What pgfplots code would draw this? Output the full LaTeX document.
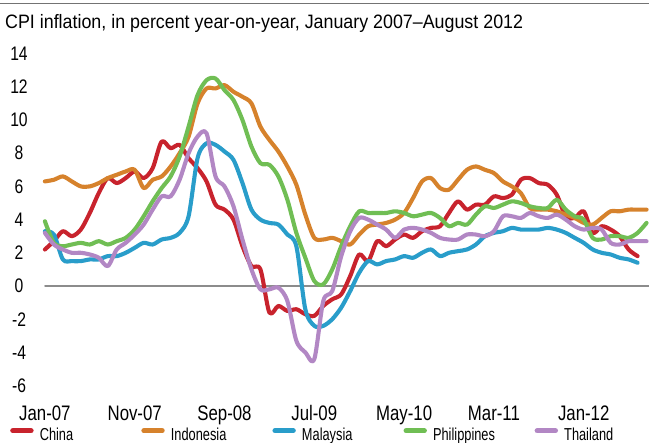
\documentclass[border=0pt]{standalone}
\usepackage{pgfplots}
\pgfplotsset{compat=1.18}
\usepackage{fontspec}
\setmainfont{Liberation Sans}
\newfontfamily\condfont{Liberation Sans}[FakeStretch=0.8]
\newfontfamily\legfont{Liberation Sans}[FakeStretch=0.74]
\newfontfamily\titlefont{Liberation Sans}[FakeStretch=0.92]
\definecolor{cChina}{RGB}{200,35,45}
\definecolor{cIndo}{RGB}{214,130,44}
\definecolor{cMal}{RGB}{41,157,202}
\definecolor{cPhil}{RGB}{112,190,84}
\definecolor{cThai}{RGB}{178,135,196}
\begin{document}
\begin{tikzpicture}
\begin{axis}[
  x=8.98bp, y=16.6bp,
  xmin=-5, xmax=67.3, ymin=-6, ymax=14,
  axis line style={draw=none},
  tick style={draw=none},
  major tick length=0pt,
  clip=false,
  ytick={-6,-4,-2,0,2,4,6,8,10,12,14},
  yticklabels={-6,-4,-2,0,2,4,6,8,10,12,14},
  yticklabel style={font=\condfont\fontsize{19.6bp}{22bp}\selectfont, anchor=center, xshift=19bp, inner sep=0pt},
  xtick={0,10,20,30,40,50,60},
  xticklabels={Jan-07,Nov-07,Sep-08,Jul-09,May-10,Mar-11,Jan-12},
  xticklabel style={font=\condfont\fontsize{21bp}{24bp}\selectfont, anchor=base, yshift=-34.4bp, inner sep=0pt},
  legend columns=5,
  legend style={draw=none, fill=none, inner sep=0pt, outer sep=0pt,
    at={(axis description cs:0.0126,-0.128)}, anchor=north west,
    font=\legfont\fontsize{17.3bp}{19bp}\selectfont,
    nodes={inner sep=0pt, text width=99.5bp, text depth=0pt, align=left},
    /tikz/every odd column/.style={column sep=4.1bp}},
  legend image code/.code={\draw[#1, line cap=round, line width=5.3bp] (2.65bp,3.6bp) -- (20.75bp,3.6bp); \path (0bp,0bp) (23.4bp,0bp);},
  every axis plot/.append style={line width=4.1bp, smooth, tension=0.5, line join=round, line cap=round},
]
\addplot[draw=black!45, line width=1.2bp, sharp plot, forget plot] coordinates {(0,0) (67.3,0)};
% China
\addplot[cChina] table {
x y
0 2.2
1 2.7
2 3.3
3 3.0
4 3.4
5 4.4
6 5.6
7 6.5
8 6.2
9 6.5
10 6.9
11 6.5
12 7.1
13 8.7
14 8.3
15 8.5
16 7.7
17 7.1
18 6.3
19 4.9
20 4.6
21 4.0
22 2.4
23 1.2
24 1.0
25 -1.6
26 -1.2
27 -1.5
28 -1.4
29 -1.7
30 -1.8
31 -1.2
32 -0.8
33 -0.5
34 0.6
35 1.9
36 1.5
37 2.7
38 2.4
39 2.8
40 3.1
41 2.9
42 3.3
43 3.5
44 3.6
45 4.4
46 5.1
47 4.6
48 4.9
49 4.9
50 5.4
51 5.3
52 5.5
53 6.4
54 6.5
55 6.2
56 6.1
57 5.5
58 4.2
59 4.1
60 4.5
61 3.2
62 3.6
63 3.4
64 3.0
65 2.2
66 1.8
};
\addlegendentry{China}
% Indonesia
\addplot[cIndo] table {
x y
0 6.3
1 6.4
2 6.6
3 6.3
4 6.0
5 6.0
6 6.2
7 6.5
8 6.7
9 6.9
10 7.0
11 5.9
12 6.4
13 6.6
14 7.2
15 8.0
16 9.0
17 11.0
18 11.9
19 11.9
20 12.1
21 11.7
22 11.4
23 11.0
24 9.6
25 8.8
26 8.1
27 7.2
28 6.1
29 4.3
30 2.9
31 2.8
32 2.9
33 2.7
34 2.5
35 3.1
36 3.6
37 3.7
38 3.8
39 4.0
40 4.4
41 5.3
42 6.3
43 6.5
44 5.9
45 5.8
46 6.4
47 7.0
48 7.2
49 7.0
50 6.8
51 6.3
52 6.0
53 5.6
54 4.7
55 4.6
56 4.6
57 4.5
58 4.3
59 4.1
60 3.8
61 3.7
62 4.1
63 4.5
64 4.5
65 4.6
66 4.6
67 4.6
};
\addlegendentry{Indonesia}
% Malaysia
\addplot[cMal] table {
x y
0 3.3
1 3.1
2 1.6
3 1.5
4 1.5
5 1.6
6 1.6
7 1.8
8 1.8
9 2.0
10 2.3
11 2.6
12 2.5
13 2.8
14 2.9
15 3.2
16 4.2
17 7.7
18 8.6
19 8.5
20 8.1
21 7.6
22 6.2
23 4.6
24 4.0
25 3.8
26 3.7
27 3.1
28 2.4
29 -1.4
30 -2.4
31 -2.4
32 -2.0
33 -1.3
34 -0.3
35 0.8
36 1.5
37 1.3
38 1.5
39 1.6
40 1.8
41 1.7
42 2.0
43 2.2
44 1.8
45 2.0
46 2.1
47 2.2
48 2.5
49 3.0
50 3.2
51 3.3
52 3.5
53 3.4
54 3.4
55 3.4
56 3.5
57 3.4
58 3.2
59 2.9
60 2.6
61 2.2
62 2.0
63 1.9
64 1.7
65 1.6
66 1.4
};
\addlegendentry{Malaysia}
% Philippines
\addplot[cPhil] table {
x y
0 3.9
1 2.6
2 2.4
3 2.5
4 2.6
5 2.5
6 2.7
7 2.5
8 2.7
9 2.9
10 3.4
11 4.2
12 5.1
13 5.9
14 6.6
15 7.8
16 9.6
17 11.5
18 12.4
19 12.5
20 11.8
21 11.2
22 10.0
23 8.4
24 7.4
25 7.3
26 6.6
27 5.2
28 3.2
29 1.7
30 0.3
31 0.1
32 1.0
33 2.4
34 3.6
35 4.5
36 4.4
37 4.4
38 4.4
39 4.5
40 4.4
41 4.2
42 4.3
43 4.4
44 4.1
45 3.6
46 3.8
47 3.7
48 4.3
49 4.8
50 4.7
51 4.9
52 5.1
53 5.0
54 4.8
55 4.7
56 4.7
57 5.2
58 4.6
59 4.2
60 4.0
61 2.9
62 2.8
63 3.0
64 3.0
65 2.9
66 3.2
67 3.8
};
\addlegendentry{Philippines}
% Thailand
\addplot[cThai] table {
x y
0 3.2
1 2.5
2 2.2
3 2.0
4 2.0
5 1.9
6 1.7
7 1.2
8 2.2
9 2.6
10 3.1
11 3.7
12 4.6
13 5.4
14 5.4
15 6.4
16 8.0
17 9.0
18 9.2
19 6.6
20 6.0
21 4.8
22 2.8
23 1.0
24 -0.2
25 -0.2
26 -0.1
27 -0.9
28 -3.3
29 -4.0
30 -4.4
31 -0.9
32 -0.3
33 1.8
34 3.3
35 4.1
36 4.0
37 3.7
38 3.4
39 2.9
40 3.4
41 3.5
42 3.4
43 3.2
44 2.9
45 2.8
46 2.8
47 3.1
48 3.1
49 3.0
50 3.3
51 4.2
52 4.2
53 4.1
54 4.4
55 4.2
56 4.1
57 4.3
58 4.0
59 3.6
60 3.4
61 3.5
62 3.4
63 2.6
64 2.5
65 2.7
66 2.7
67 2.7
};
\addlegendentry{Thailand}
\end{axis}
\draw[black!55, line width=1bp] (0bp,381.6bp) -- (649bp,381.6bp);
\node[anchor=base west, inner sep=0pt, font=\titlefont\fontsize{19.4bp}{22bp}\selectfont] at (5bp,357bp) {CPI inflation, in percent year-on-year, January 2007–August 2012};
\pgfresetboundingbox
\useasboundingbox (0bp,-57.4bp) rectangle (649bp,385.6bp);
\end{tikzpicture}
\end{document}
